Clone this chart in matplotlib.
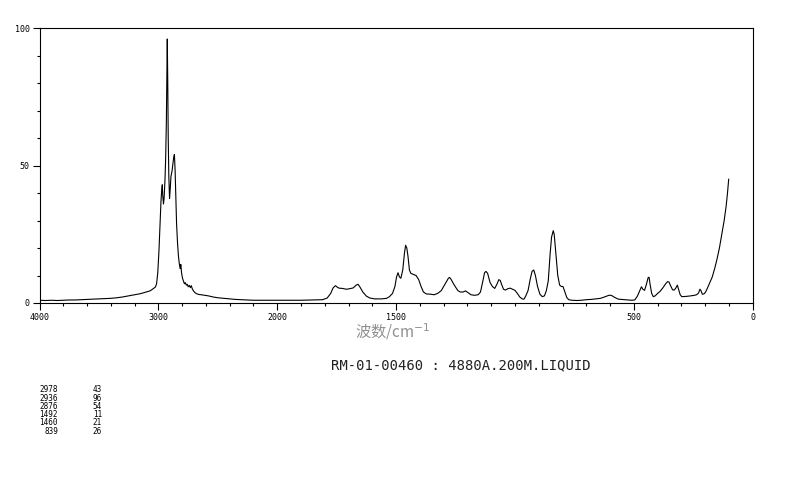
import numpy as np
import matplotlib
matplotlib.use('Agg')
from matplotlib import pyplot as plt
from matplotlib.ticker import FixedLocator, NullFormatter, FixedFormatter

# spectrum (wavenumber cm-1, relative intensity)
wavenumber = [
    4000, 3950, 3900, 3850, 3800, 3750, 3700, 3650, 3600, 3550, 3500, 3450,
    3400, 3350, 3300, 3250, 3200, 3150, 3100, 3070, 3050, 3035, 3025, 3015,
    3005, 2995, 2985, 2978, 2972, 2967, 2963, 2957, 2952, 2945, 2939, 2933,
    2929, 2925, 2921, 2917, 2912, 2906, 2901, 2894, 2885, 2877, 2871, 2865,
    2859, 2853, 2847, 2839, 2831, 2823, 2817, 2811, 2805, 2797, 2789, 2781,
    2773, 2765, 2757, 2749, 2739, 2731, 2723, 2715, 2705, 2693, 2680, 2660,
    2640, 2580, 2540, 2500, 2450, 2400, 2350, 2300, 2250, 2200, 2150, 2100,
    2050, 2000, 1950, 1900, 1850, 1810, 1790, 1775, 1765, 1755, 1748, 1740,
    1725, 1710, 1695, 1680, 1668, 1660, 1652, 1640, 1625, 1610, 1590, 1560,
    1540, 1528, 1515, 1505, 1498, 1492, 1486, 1480, 1472, 1465, 1460, 1455,
    1450, 1444, 1438, 1428, 1416, 1405, 1395, 1385, 1373, 1355, 1340, 1325,
    1310, 1300, 1290, 1280, 1275, 1268, 1260, 1250, 1240, 1230, 1218, 1208,
    1198, 1185, 1170, 1155, 1145, 1135, 1128, 1122, 1115, 1105, 1095, 1085,
    1075, 1068, 1062, 1055, 1048, 1040, 1030, 1020, 1010, 1000, 990, 980,
    970, 962, 955, 945, 935, 928, 921, 914, 905, 895, 885, 876,
    868, 860, 852, 846, 839, 835, 828, 820, 812, 805, 798, 790,
    782, 774, 760, 740, 720, 700, 680, 660, 640, 620, 605, 595,
    580, 565, 550, 530, 510, 496, 485, 475, 468, 462, 455, 448,
    440, 436, 432, 425, 418, 410, 400, 390, 378, 366, 358, 352,
    345, 337, 330, 323, 317, 312, 305, 298, 280, 260, 245, 236,
    228, 222, 218, 212, 205, 198, 190, 180, 170, 160, 150, 140,
    130, 120, 112, 106, 101,
]
intensity = [
    1.0, 0.9, 1.0, 0.9, 1.0, 1.1, 1.1, 1.2, 1.3, 1.4, 1.5, 1.6,
    1.7, 1.9, 2.2, 2.6, 3.0, 3.4, 4.0, 4.4, 5.0, 5.5, 5.8, 7.0,
    11, 19, 30, 37, 41, 43, 39, 36, 38, 44, 52, 65,
    82, 96, 80, 60, 46, 38, 41, 46, 48, 51, 53, 54,
    48, 38, 29, 22, 17, 14, 12.5, 14, 11, 9, 8, 7,
    7.4, 6.5, 6.8, 5.9, 6.4, 5.6, 6.3, 5.2, 4.4, 3.8, 3.4, 3.1,
    3.0, 2.6, 2.2, 1.9, 1.7, 1.5, 1.3, 1.2, 1.1, 1.0, 1.0, 1.0,
    1.0, 1.0, 1.0, 1.0, 1.1, 1.2, 1.8, 3.5, 5.5, 6.3, 5.8, 5.4,
    5.3, 5.0, 5.2, 5.5, 6.5, 6.8, 5.8, 4.0, 2.5, 1.8, 1.5, 1.5,
    1.7, 2.3, 3.5, 6, 9.5, 11, 9.5, 9, 12, 18, 21, 20,
    17, 12, 10.8, 10.4, 10, 8.5, 6, 4, 3.3, 3.2, 3.0, 3.5,
    4.5, 6, 7.5, 9, 9.3, 8.5, 7.2, 5.8, 4.5, 4.0, 4.0, 4.4,
    3.8, 3.0, 2.8, 3.0, 4, 8, 11, 11.5, 10.8, 7.5, 6, 5.3,
    7, 8.5, 8.2, 6.5, 5.0, 4.7, 5.2, 5.4, 5.0, 4.6, 3.5, 2.2,
    1.5, 1.4, 2.5, 4.5, 9, 11.5, 12, 10, 6, 3.2, 2.3, 2.6,
    4.5, 8, 18, 24, 26.3, 25, 18, 10, 6.5, 6, 6, 4,
    2, 1.2, 1.0, 0.9, 1.0, 1.2, 1.3, 1.5, 1.7, 2.3, 2.8, 2.8,
    2.0, 1.4, 1.3, 1.2, 1.0, 1.1, 2.5, 4.5, 5.9, 5.0, 4.6, 6.5,
    9.2, 9.4, 7, 3.5, 2.3, 2.6, 3.5, 4.2, 5.5, 7, 7.8, 7.6,
    6.2, 4.8, 4.7, 5.5, 6.5, 5, 3, 2.3, 2.4, 2.6, 2.8, 3.0,
    3.6, 5.0, 4.6, 3.2, 3.3, 4.0, 5.5, 7.5, 9.5, 12.5, 16, 20,
    25, 30, 35, 40, 45,
]

x_major = [4000, 3000, 2000, 1500, 500, 0]
x_major_labels = ['4000', '3000', '2000', '1500', '500', '0']
x_minor = list(range(4000, 2000, -200)) + list(range(2000, -1, -100))
y_major = [0, 50, 100]
y_minor = list(range(0, 101, 10))

peak_pos = ['2978', '2936', '2876', '1492', '1460', '839']
peak_int = ['43', '96', '54', '11', '21', '26']


# axis is compressed by 2 above 2000 cm-1
def fwd(x):
    x = np.asarray(x, dtype=float)
    return np.where(x <= 2000, x, 2000 + (x - 2000) / 2)


def inv(u):
    u = np.asarray(u, dtype=float)
    return np.where(u <= 2000, u, 2000 + (u - 2000) * 2)


fig = plt.figure(figsize=(7.94, 4.82), dpi=100)
ax = fig.add_axes([39.5 / 794, 1 - 303 / 482, 713.2 / 794, 275 / 482])
ax.set_xscale('function', functions=(fwd, inv))
ax.plot(wavenumber, intensity, color='black', lw=0.8)
ax.set_xlim(4000, 0)
ax.set_ylim(0, 100)

mono = 'DejaVu Sans Mono'
ax.xaxis.set_major_locator(FixedLocator(x_major))
ax.xaxis.set_major_formatter(FixedFormatter(x_major_labels))
ax.xaxis.set_minor_locator(FixedLocator(x_minor))
ax.xaxis.set_minor_formatter(NullFormatter())
ax.yaxis.set_major_locator(FixedLocator(y_major))
ax.yaxis.set_minor_locator(FixedLocator(y_minor))
ax.yaxis.set_minor_formatter(NullFormatter())
ax.tick_params(which='major', length=5, width=0.8, labelsize=6, pad=2)
ax.tick_params(which='minor', length=2.5, width=0.8)
for lab in ax.get_xticklabels() + ax.get_yticklabels():
    lab.set_family(mono)
for sp in ax.spines.values():
    sp.set_linewidth(0.8)

fig.text(393 / 794, 1 - 332 / 482, '波数/cm$^{-1}$', ha='center', va='center',
         fontsize=11, color='#909090', family=['Noto Sans CJK SC', 'DejaVu Sans'])
fig.text(461 / 794, 1 - 365 / 482, 'RM-01-00460 : 4880A.200M.LIQUID',
         ha='center', va='center', fontsize=10, family=mono, color='#222222')

for i in range(len(peak_pos)):
    yy = 1 - (390 + i * 8.2) / 482
    fig.text(58 / 794, yy, peak_pos[i], ha='right', va='center',
             fontsize=5.5, family=mono)
    fig.text(102 / 794, yy, peak_int[i], ha='right', va='center',
             fontsize=5.5, family=mono)

fig.savefig('out.png', dpi=100)
